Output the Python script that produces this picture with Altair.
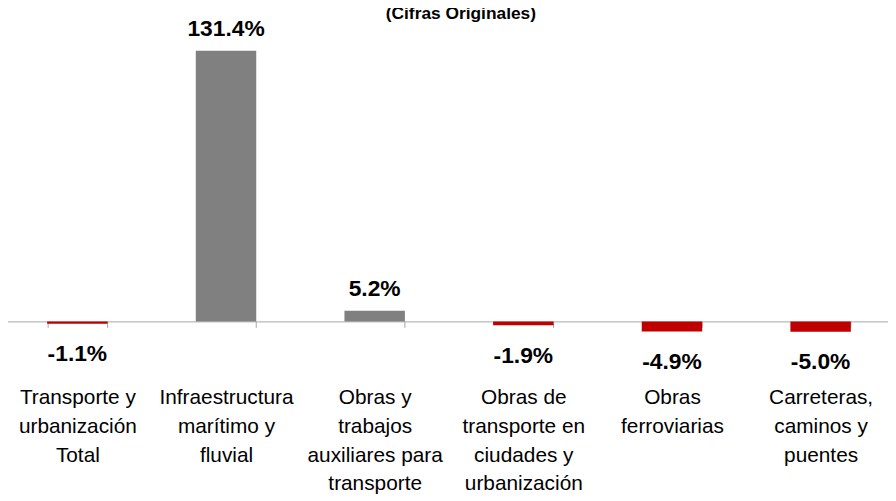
import altair as alt
import pandas as pd

categories = [
    "Transporte y|urbanización|Total",
    "Infraestructura|marítimo y|fluvial",
    "Obras y|trabajos|auxiliares para|transporte",
    "Obras de|transporte en|ciudades y|urbanización",
    "Obras|ferroviarias",
    "Carreteras,|caminos y|puentes",
]
values = [-1.1, 131.4, 5.2, -1.9, -4.9, -5.0]
value_labels = ["-1.1%", "131.4%", "5.2%", "-1.9%", "-4.9%", "-5.0%"]

df = pd.DataFrame({"cat": categories, "value": values, "label": value_labels})

FONT = "Liberation Sans, Arial, sans-serif"

x = alt.X(
    "cat:N",
    sort=categories,
    scale=alt.Scale(paddingInner=0.6, paddingOuter=0.3, range=[0, 900]),
    axis=alt.Axis(
        title=None,
        orient="bottom",
        offset=-179,
        domainColor="#A6A6A6",
        domainWidth=1,
        tickColor="#A6A6A6",
        tickSize=6,
        tickBand="extent",
        labelAngle=0,
        labelFont=FONT,
        labelFontSize=21,
        labelLineHeight=29,
        labelColor="#000000",
        labelPadding=60,
        labelBaseline="top",
        labelLimit=0,
        labelExpr="split(datum.label, '|')",
    ),
)
y = alt.Y("value:Q", scale=alt.Scale(domain=[-86.1, 146.3], nice=False, zero=True), axis=None)

bars = alt.Chart(df).mark_bar(size=61).encode(
    x=x,
    y=y,
    color=alt.condition(alt.datum.value >= 0, alt.value("#808080"), alt.value("#C00000")),
)

pos_text = alt.Chart(df).transform_filter(alt.datum.value >= 0).mark_text(
    font=FONT, fontSize=23, fontWeight="bold", baseline="alphabetic", dy=-15, color="#000000"
).encode(x=alt.X("cat:N", sort=categories), y="value:Q", text="label:N")

neg_text = alt.Chart(df).transform_filter(alt.datum.value < 0).mark_text(
    font=FONT, fontSize=23, fontWeight="bold", baseline="top", dy=20, color="#000000"
).encode(x=alt.X("cat:N", sort=categories), y="value:Q", text="label:N")

chart = alt.layer(bars, pos_text, neg_text).properties(
    width=884,
    height=483,
    title=alt.TitleParams(
        "(Cifras Originales)",
        font=FONT,
        fontSize=17.5,
        fontWeight="bold",
        color="#000000",
        anchor="middle",
        baseline="alphabetic",
        offset=-18,
        dx=20,
    ),
    autosize=alt.AutoSizeParams(type="none"),
    padding={"left": -5, "top": 10, "right": 9, "bottom": 0},
).configure_view(stroke=None)

chart.save("out.html", embed_options={"renderer": "svg", "actions": False})
